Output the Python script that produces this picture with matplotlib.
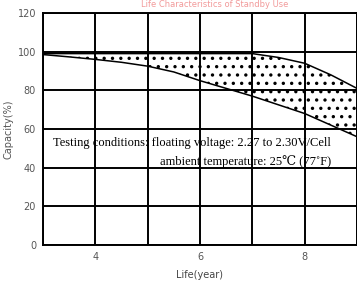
import matplotlib.pyplot as plt
from matplotlib.ticker import MultipleLocator, FixedLocator

# capacity (%), life in years
years = [3, 3.5, 4, 4.5, 5, 5.5, 6, 6.5, 7, 7.5, 8, 8.5, 9]
capacity_low = [98.5, 97.3, 96, 94.5, 92.5, 89.5, 85, 81, 77, 72.5, 68, 62, 56]
capacity_high = [99, 99, 99, 99, 99, 99, 99, 99, 99, 97, 94, 88, 81]

x_ticks = [4, 6, 8]
y_ticks = [0, 20, 40, 60, 80, 100, 120]

title = "Life Characteristics of Standby Use"
cond_line1 = "Testing conditions: floating voltage: 2.27 to 2.30V/Cell"
cond_line2 = "ambient temperature: 25\u2103 (77\u02daF)"

plt.rcParams["hatch.linewidth"] = 1.2

fig = plt.figure(figsize=(3.57, 2.85), dpi=100)
ax = fig.add_axes([0.1204, 0.1404, 0.8796, 0.8140])

ax.fill_between(years, capacity_low, capacity_high, facecolor="none",
                edgecolor="black", hatch="..", linewidth=0)
ax.plot(years, capacity_low, color="black", lw=1.1)
ax.plot(years, capacity_high, color="black", lw=1.1)

ax.set_xlim(3, 9)
ax.set_ylim(0, 120)
ax.xaxis.set_major_locator(FixedLocator(x_ticks))
ax.xaxis.set_minor_locator(MultipleLocator(1))
ax.set_yticks(y_ticks)
ax.grid(True, which="both", color="black", lw=1.4)
ax.set_axisbelow(True)
ax.tick_params(which="both", length=0, labelsize=7, labelcolor="#555555", pad=5)
for s in ax.spines.values():
    s.set_linewidth(1.4)

ax.set_xlabel("Life(year)", fontsize=7, color="#444444", labelpad=6)
ax.set_ylabel("Capacity(%)", fontsize=7, color="#555555", labelpad=3)

serif = ["Liberation Serif", "DejaVu Serif"]
ax.text(8.5, 51.3, cond_line1, family=serif, fontsize=9, ha="right", va="baseline")
ax.text(8.5, 41.5, cond_line2, family=serif, fontsize=9, ha="right", va="baseline")

fig.text(0.6, 1.0, title, color="#f29a9a", fontsize=6, ha="center", va="top")

fig.savefig("out.png", dpi=100)
